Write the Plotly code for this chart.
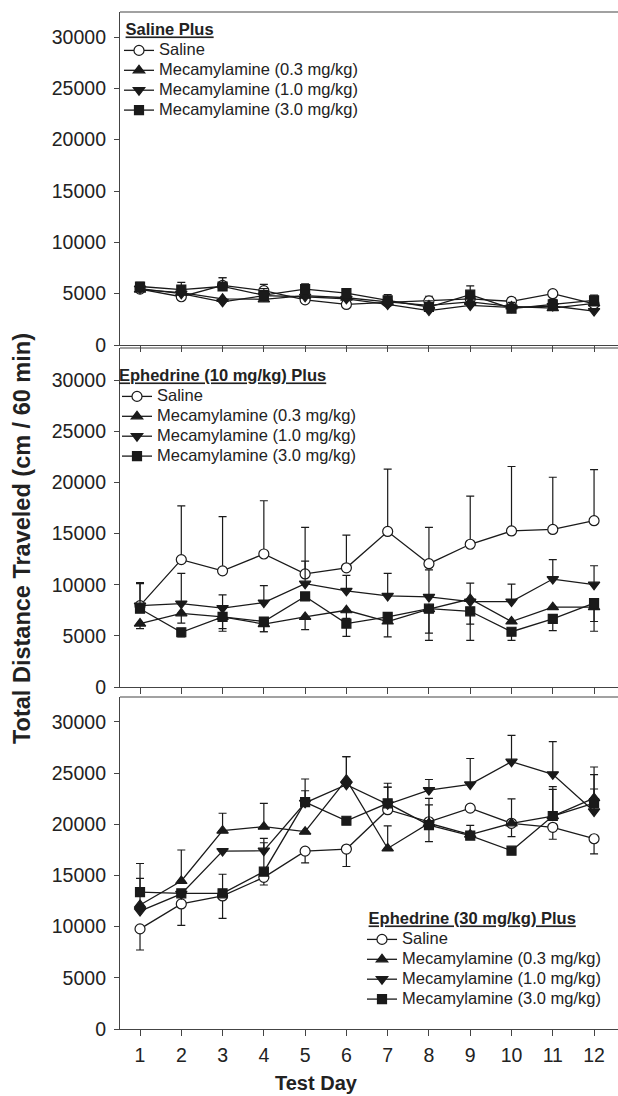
import plotly.graph_objects as go

days = list(range(1, 13))
names = ["Saline", "Mecamylamine (0.3 mg/kg)", "Mecamylamine (1.0 mg/kg)", "Mecamylamine (3.0 mg/kg)"]
panel_titles = ["Saline Plus", "Ephedrine (10 mg/kg) Plus", "Ephedrine (30 mg/kg) Plus"]
y_ticks = [0, 5000, 10000, 15000, 20000, 25000, 30000]
y_tick_labels = ["0", "5000", "10000", "15000", "20000", "25000", "30000"]
x_tick_labels = [str(d) for d in days]

# ---- Panel 1: Saline Plus ----
p1_sal = [5450, 4700, 5800, 5300, 4400, 3950, 4150, 4300, 4500, 4250, 5000, 4000]
p1_m03 = [5400, 5100, 4500, 4450, 4800, 4600, 4200, 3850, 4200, 3750, 3600, 4050]
p1_m10 = [5500, 5000, 4200, 4800, 4700, 4500, 3950, 3350, 3850, 3650, 3800, 3300]
p1_m30 = [5700, 5400, 5700, 4850, 5450, 5050, 4350, 3700, 4900, 3550, 3950, 4350]
p1_sal_up = [300, 300, 750, 600, 300, 300, 350, 450, 400, 350, 300, 400]
p1_sal_dn = [0] * 12
p1_m03_up = [0] * 12
p1_m03_dn = [0] * 12
p1_m10_up = [0] * 12
p1_m10_dn = [0] * 12
p1_m30_up = [400, 700, 850, 650, 500, 400, 550, 600, 850, 600, 500, 500]
p1_m30_dn = [0] * 12

# ---- Panel 2: Ephedrine (10 mg/kg) Plus ----
p2_sal = [7950, 12450, 11350, 13000, 11050, 11650, 15200, 12050, 13950, 15250, 15400, 16250]
p2_m03 = [6200, 7200, 6850, 6150, 6850, 7500, 6400, 7600, 8600, 6400, 7800, 7800]
p2_m10 = [7950, 8150, 7700, 8250, 10100, 9400, 8900, 8800, 8350, 8350, 10550, 10000]
p2_m30 = [7650, 5350, 6850, 6400, 8850, 6200, 6850, 7650, 7400, 5400, 6650, 8200]
p2_sal_up = [2250, 5250, 5300, 5200, 4550, 3200, 6100, 3550, 4700, 6300, 5100, 5000]
p2_sal_dn = [0] * 12
p2_m03_up = [0, 0, 0, 0, 0, 0, 0, 0, 1550, 0, 0, 0]
p2_m03_dn = [500, 950, 1150, 750, 1250, 800, 1500, 2330, 0, 0, 0, 1400]
p2_m10_up = [2150, 2950, 1300, 1650, 2200, 1500, 2200, 2650, 0, 1700, 1900, 1850]
p2_m10_dn = [0, 0, 0, 0, 0, 0, 0, 0, 2200, 0, 0, 0]
p2_m30_up = [0] * 12
p2_m30_dn = [0, 450, 1400, 1000, 0, 1250, 0, 3100, 2850, 850, 1150, 2750]

# ---- Panel 3: Ephedrine (30 mg/kg) Plus ----
p3_sal = [9780, 12220, 13000, 14820, 17380, 17580, 21430, 20250, 21580, 20100, 19710, 18590]
p3_m03 = [12120, 14460, 19380, 19770, 19280, 24360, 17640, 20100, 19000, 20100, 20800, 22560]
p3_m10 = [11520, 13200, 17390, 17420, 22100, 23870, 21950, 23340, 23900, 26120, 24890, 21260]
p3_m30 = [13370, 13260, 13260, 15370, 22170, 20350, 22050, 19930, 18900, 17420, 20810, 22080]
p3_sal_up = [0, 0, 0, 0, 0, 0, 2200, 0, 0, 2380, 0, 0]
p3_sal_dn = [2060, 2100, 2200, 750, 1150, 1700, 0, 1950, 0, 1310, 1170, 1470]
p3_m03_up = [0, 3030, 1700, 2280, 0, 2250, 2200, 1790, 0, 0, 2880, 3040]
p3_m03_dn = [0] * 12
p3_m10_up = [3200, 0, 0, 1210, 1180, 2740, 1670, 1040, 2530, 2580, 3190, 2190]
p3_m10_dn = [0] * 12
p3_m30_up = [2800, 0, 1860, 2830, 2260, 0, 1960, 2610, 1000, 0, 2610, 2770]
p3_m30_dn = [0] * 12

panels = [
    [(p1_sal, p1_sal_up, p1_sal_dn), (p1_m03, p1_m03_up, p1_m03_dn),
     (p1_m10, p1_m10_up, p1_m10_dn), (p1_m30, p1_m30_up, p1_m30_dn)],
    [(p2_sal, p2_sal_up, p2_sal_dn), (p2_m03, p2_m03_up, p2_m03_dn),
     (p2_m10, p2_m10_up, p2_m10_dn), (p2_m30, p2_m30_up, p2_m30_dn)],
    [(p3_sal, p3_sal_up, p3_sal_dn), (p3_m03, p3_m03_up, p3_m03_dn),
     (p3_m10, p3_m10_up, p3_m10_dn), (p3_m30, p3_m30_up, p3_m30_dn)],
]

FONT = "Liberation Sans, Arial, sans-serif"
INK = "#1a1a1a"
AX = "#444444"
symbols = ["circle", "triangle-up", "triangle-down", "square"]
fills = ["white", INK, INK, INK]
sizes = [10, 10, 10, 9]

W, H = 618, 1107
REF_H = 1096
L = 120
PW = W - L
# pixel positions (in the 618x1096 picture) of each panel (top, bottom)
pix = [(12, 345), (348, 687), (697, 1029)]
ymax = [32435, 33130, 32440]


def fy(py):
    return 1 - py / REF_H


def fx(px):
    return (px - L) / PW


fig = go.Figure()
for p, series in enumerate(panels):
    ax = "" if p == 0 else str(p + 1)
    lg = "legend" if p == 0 else "legend" + str(p + 1)
    for s, (vals, up, dn) in enumerate(series):
        fig.add_trace(go.Scatter(
            x=days, y=vals, name='<span style="font-size:16.5px">' + names[s] + "</span>",
            mode="lines+markers",
            xaxis="x" + ax, yaxis="y" + ax, legend=lg,
            line=dict(color=INK, width=1.3),
            marker=dict(symbol=symbols[s], size=sizes[s], color=fills[s],
                        line=dict(color=INK, width=1.2)),
            error_y=dict(type="data", symmetric=False, array=up, arrayminus=dn,
                         color=INK, thickness=1.2, width=4),
        ))

layout = dict(
    width=W, height=H,
    margin=dict(l=L, r=0, t=0, b=0),
    paper_bgcolor="white", plot_bgcolor="white",
    font=dict(family=FONT, size=19.5, color="#222"),
    showlegend=True,
)
for p in range(3):
    top, bot = pix[p]
    ax = "" if p == 0 else str(p + 1)
    layout["xaxis" + ax] = dict(
        domain=[0, 1], range=[0.515, 12.58], anchor="y" + ax,
        tickvals=days, ticktext=x_tick_labels, ticks="outside", ticklen=6,
        tickcolor=AX, tickwidth=1,
        showline=True, linecolor=AX, linewidth=1.2, showgrid=False, zeroline=False,
        showticklabels=(p == 2), tickfont=dict(size=19.5, color="#222"),
        ticklabelstandoff=2,
    )
    layout["yaxis" + ax] = dict(
        domain=[fy(bot), fy(top)], range=[0, ymax[p]], anchor="x" + ax,
        tickvals=y_ticks, ticktext=y_tick_labels, ticks="outside", ticklen=5,
        tickcolor=AX, tickwidth=1,
        showline=True, linecolor=AX, linewidth=1.2, showgrid=False, zeroline=False,
        tickfont=dict(size=19.5, color="#222"), ticklabelstandoff=4,
    )
    lg = "legend" if p == 0 else "legend" + str(p + 1)
    # (x of item origin, y of legend top) in pixels
    legpos = [(119, 14), (117, 360), (362, 903)][p]
    tpad = ["&nbsp;", "", "&nbsp;"][p]
    layout[lg] = dict(
        x=fx(legpos[0]), y=fy(legpos[1]), xanchor="left", yanchor="top",
        bgcolor="rgba(0,0,0,0)", borderwidth=0,
        font=dict(family=FONT, size=13, color="#222"),
        title=dict(text=tpad + "<b><u>" + panel_titles[p] + "</u></b>",
                   font=dict(family=FONT, size=16.5, color="#222")),
        itemwidth=30, traceorder="normal",
    )

shapes = []
for p in range(3):
    ax = "" if p == 0 else str(p + 1)
    shapes.append(dict(type="line", xref="x" + ax + " domain", yref="y" + ax + " domain",
                       x0=0, x1=1, y0=1, y1=1, line=dict(color=AX, width=1.2)))
layout["shapes"] = shapes

layout["annotations"] = [
    dict(text="<b>Total Distance Traveled (cm / 60 min)</b>", textangle=-90,
         xref="paper", yref="paper", x=fx(22), y=fy(539),
         xanchor="center", yanchor="middle", showarrow=False,
         font=dict(family=FONT, size=23.5, color="#222")),
    dict(text="<b>Test Day</b>", xref="paper", yref="paper",
         x=fx(316), y=fy(1083), xanchor="center", yanchor="middle",
         showarrow=False, font=dict(family=FONT, size=20, color="#222")),
]

fig.update_layout(**layout)
fig.write_html(
    "out.html",
    config={"displayModeBar": False},
    post_script="document.body.style.margin='0px';",
)
